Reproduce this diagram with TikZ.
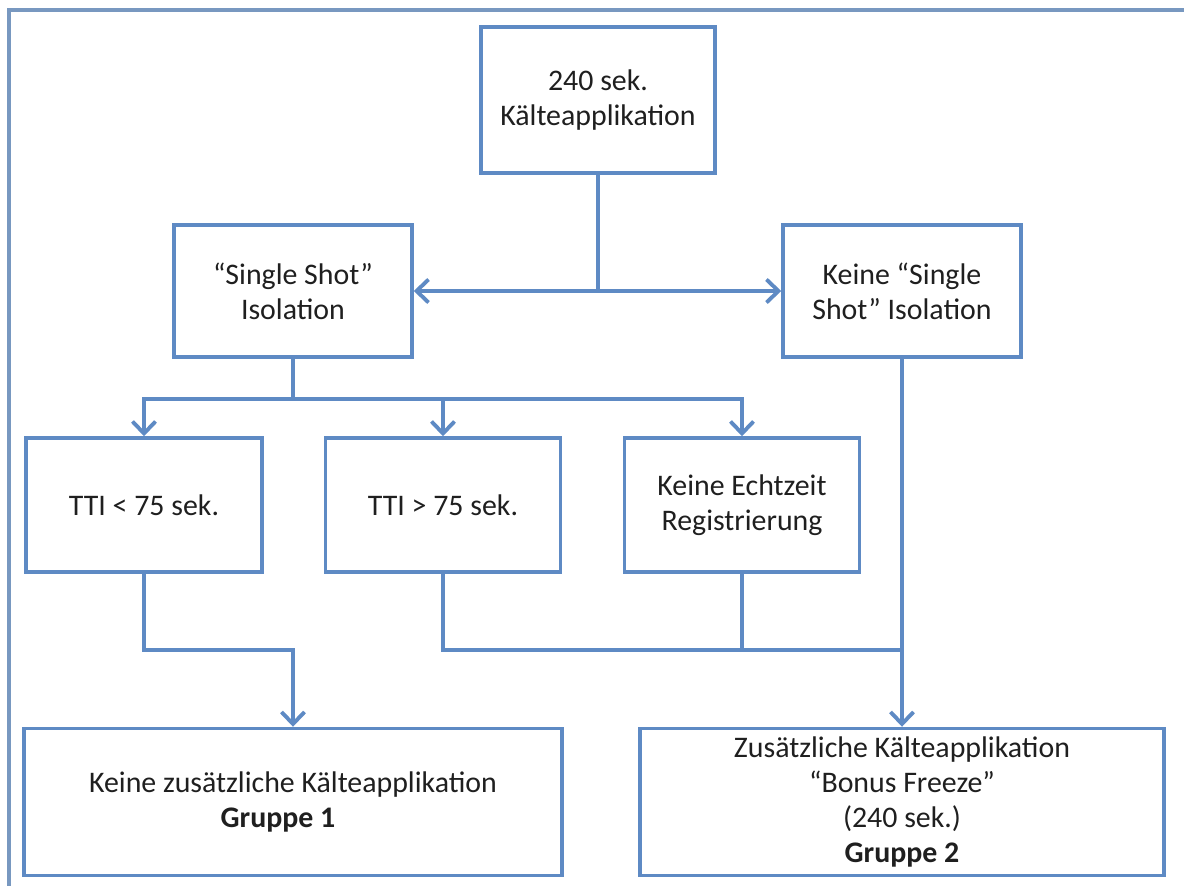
\documentclass[tikz,border=0pt]{standalone}
\usepackage{fontspec}
\setmainfont{Carlito}
\usetikzlibrary{arrows.meta}
\definecolor{boxblue}{RGB}{94,138,196}
\definecolor{frameblue}{RGB}{120,152,192}

\begin{document}
\begin{tikzpicture}[x=0.02cm, y=-0.02cm,
  box/.style={draw=boxblue, line width=2pt, align=center, inner sep=0pt,
    text=black!88, font=\fontsize{17}{20}\selectfont},
  link/.style={draw=boxblue, line width=2.2pt,
    -{Straight Barb[length=2.4mm,width=4.6mm]}},
  wire/.style={draw=boxblue, line width=2.2pt}]

\useasboundingbox (0,0) rectangle (1184,886);

% frame
\draw[frameblue, line width=2.4pt] (9,886) -- (9,10) -- (1184,10);

\node[box, minimum width=4.68cm, minimum height=2.92cm] (start) at (598,100)
  {240 sek.\\Kälteapplikation};

\node[box, minimum width=4.76cm, minimum height=2.64cm] (single) at (293,291)
  {“Single Shot”\\Isolation};
\node[box, minimum width=4.76cm, minimum height=2.64cm] (nosingle) at (902,291)
  {Keine “Single\\Shot” Isolation};

\node[box, minimum width=4.72cm, minimum height=2.68cm] (ttilow) at (144,505)
  {TTI < 75 sek.};
\node[box, minimum width=4.70cm, minimum height=2.68cm] (ttihigh) at (443,505)
  {TTI > 75 sek.};
\node[box, minimum width=4.70cm, minimum height=2.68cm] (norec) at (742,505)
  {Keine Echtzeit\\Registrierung};

\node[box, minimum width=10.76cm, minimum height=2.94cm] (grpone) at (293,802)
  {Keine zusätzliche Kälteapplikation\\\textbf{Gruppe 1}\hspace*{0.6cm}};
\node[box, minimum width=10.48cm, minimum height=2.94cm] (grptwo) at (902,802)
  {Zusätzliche Kälteapplikation\\“Bonus Freeze”\\(240 sek.)\\\textbf{Gruppe 2}};

\coordinate (fork) at (293,399);
\coordinate (low) at (0,650);

\draw[link] (start.south) |- (single.east);
\draw[link] (start.south) |- (nosingle.west);

\draw[wire] (single.south) -- (fork);
\foreach \n in {ttilow, ttihigh, norec}
  \draw[link] (fork) -| (\n.north);

\draw[link] (ttilow.south) |- (low -| grpone.north) -- (grpone.north);
\draw[wire] (ttihigh.south) |- (low -| nosingle.south);
\draw[wire] (norec.south) -- (norec.south |- low);
\draw[link] (nosingle.south) -- (grptwo.north);

\end{tikzpicture}
\end{document}
